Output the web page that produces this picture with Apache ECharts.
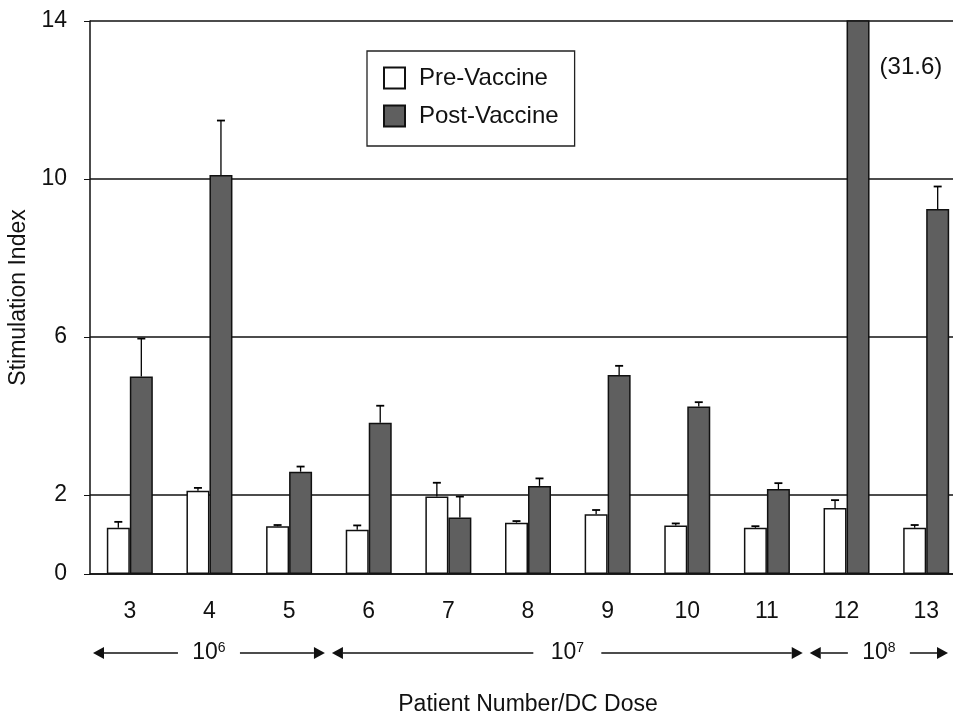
<!DOCTYPE html>
<html>
<head>
<meta charset="utf-8">
<script src="https://cdn.jsdelivr.net/npm/echarts@6/dist/echarts.min.js"></script>
<style>
html,body{margin:0;padding:0;background:#fff;}
#c{width:953px;height:717px;}
</style>
</head>
<body>
<div id="c"></div>
<script>
// ---- data ----
const patients = ['3','4','5','6','7','8','9','10','11','12','13'];
const preVals  = [1.17, 2.11, 1.21, 1.12, 1.96, 1.30, 1.51, 1.23, 1.17, 1.67, 1.17];
const preErr   = [0.15, 0.07, 0.03, 0.11, 0.35, 0.04, 0.11, 0.05, 0.04, 0.20, 0.07];
const postVals = [5.0, 10.1, 2.59, 3.83, 1.43, 2.23, 5.04, 4.24, 2.15, 31.6, 9.24];
const postErr  = [0.96, 1.38, 0.13, 0.43, 0.53, 0.19, 0.23, 0.11, 0.15, 0, 0.57];
const yTicks   = [0, 2, 6, 10, 14];
const doseExp   = ['6', '7', '8'];
const doseStart = ['3', '6', '12'];
const doseEnd   = ['5', '11', '13'];
const seriesNames = ['Pre-Vaccine', 'Post-Vaccine'];
const offScaleIndex = 9; // patient 12 post value exceeds axis

// ---- styles ----
const FONT = "'Liberation Sans', Arial, sans-serif";
const BAR_W = 23;
const POST_COLOR = '#5f5f5f';

const chart = echarts.init(document.getElementById('c'), null, {renderer: 'canvas'});

function errSeries(vals, errs, sign) {
  return {
    type: 'custom',
    silent: true,
    z: 4,
    clip: true,
    data: vals.map((v, i) => [i, v, v + errs[i], errs[i]]),
    encode: {x: 0, y: 1},
    renderItem(params, api) {
      if (!(api.value(3) > 0)) return null;
      const i = api.value(0);
      const b = api.coord([i, api.value(1)]);
      const t = api.coord([i, api.value(2)]);
      const x = b[0] + sign * BAR_W / 2;
      return {
        type: 'group',
        children: [
          {type: 'line', shape: {x1: x, y1: b[1], x2: x, y2: t[1]}, style: {stroke: '#000', lineWidth: 1.3}},
          {type: 'line', shape: {x1: x - 4, y1: t[1], x2: x + 4, y2: t[1]}, style: {stroke: '#000', lineWidth: 1.8}}
        ]
      };
    }
  };
}

const option = {
  animation: false,
  backgroundColor: '#fff',
  textStyle: {fontFamily: FONT},
  grid: {left: 90, top: 21, right: -13, bottom: 143, containLabel: false, outerBoundsMode: 'none'},
  legend: {
    data: seriesNames,
    orient: 'vertical',
    left: 367, top: 51,
    padding: [15, 16, 18, 16],
    itemGap: 14,
    itemWidth: 21, itemHeight: 21,
    icon: 'rect',
    borderColor: '#222', borderWidth: 1.3,
    backgroundColor: '#fff',
    textStyle: {fontSize: 24, color: '#111', fontFamily: FONT, padding: [0, 0, 0, 9]},
    selectedMode: false
  },
  xAxis: {
    type: 'category',
    data: patients,
    boundaryGap: true,
    axisLine: {lineStyle: {color: '#111', width: 1.5}},
    axisTick: {show: false},
    axisLabel: {fontSize: 23, color: '#111', margin: 26, fontFamily: FONT},
    name: 'Patient Number/DC Dose',
    nameLocation: 'middle',
    nameGap: 119,
    nameTextStyle: {fontSize: 23, color: '#111', fontFamily: FONT}
  },
  yAxis: {
    type: 'value',
    min: 0, max: 14,
    axisLine: {show: true, lineStyle: {color: '#111', width: 1.5}},
    axisTick: {show: true, length: 6, customValues: yTicks, lineStyle: {color: '#111'}},
    axisLabel: {fontSize: 23, color: '#111', margin: 23, customValues: yTicks, fontFamily: FONT},
    splitLine: {show: true, lineStyle: {color: '#111', width: 1.5}},
    name: 'Stimulation Index',
    nameLocation: 'middle',
    nameGap: 53,
    nameTextStyle: {fontSize: 23, color: '#111', fontFamily: FONT}
  },
  series: [
    {
      name: seriesNames[0], type: 'bar', data: preVals,
      barWidth: BAR_W, barGap: '0%',
      itemStyle: {color: '#fff', borderColor: '#111', borderWidth: 1.5},
      z: 3
    },
    {
      name: seriesNames[1], type: 'bar', data: postVals,
      barWidth: BAR_W, barGap: '0%',
      itemStyle: {color: POST_COLOR, borderColor: '#111', borderWidth: 1.5},
      z: 3
    },
    errSeries(preVals, preErr, -1),
    errSeries(postVals, postErr, 1)
  ]
};
chart.setOption(option);

function buildGraphics() {
  const W = chart.getWidth();
  const gr = [];
  const cat = chart.getModel().getComponent('xAxis', 0).axis;
  const bw = cat.getBandWidth();
  const cx = name => chart.convertToPixel({xAxisIndex: 0}, name);
  const rowY = chart.convertToPixel({yAxisIndex: 0}, 0) + 79;
  const head = 11, half = 6, gap = 14;

  function arrow(xFrom, xTo) { // arrowhead at xTo
    const dir = xTo > xFrom ? 1 : -1;
    gr.push({type: 'line', shape: {x1: xFrom, y1: rowY, x2: xTo - dir * head, y2: rowY},
      style: {stroke: '#111', lineWidth: 1.5}, silent: true});
    gr.push({type: 'polygon', shape: {points: [[xTo, rowY], [xTo - dir * head, rowY - half], [xTo - dir * head, rowY + half]]},
      style: {fill: '#111'}, silent: true});
  }

  doseExp.forEach((e, k) => {
    const l = cx(doseStart[k]) - bw / 2 + 3;
    let r = cx(doseEnd[k]) + bw / 2 - 4;
    if (r > W - 5) r = W - 5;
    const mid = (l + r) / 2;
    const txtW = k === 1 ? 40 : 34;
    gr.push({
      type: 'text', silent: true,
      x: mid, y: rowY,
      style: {
        text: '{b|10}{s|' + e + '}',
        align: 'center', verticalAlign: 'middle',
        fontFamily: FONT,
        rich: {
          b: {fontSize: 23, fill: '#111', fontFamily: FONT, lineHeight: 24},
          s: {fontSize: 14, fill: '#111', fontFamily: FONT, lineHeight: 24, verticalAlign: 'top'}
        }
      }
    });
    arrow(mid - txtW / 2 - gap, l);
    arrow(mid + txtW / 2 + gap, r);
  });

  // off-scale value annotation
  const bx = cx(patients[offScaleIndex]) + BAR_W;
  gr.push({
    type: 'text', silent: true,
    x: bx + 10, y: chart.convertToPixel({yAxisIndex: 0}, 14) + 46,
    style: {text: '(' + postVals[offScaleIndex] + ')', fontSize: 24, fill: '#111',
      fontFamily: FONT, align: 'left', verticalAlign: 'middle'}
  });
  chart.setOption({graphic: gr});
}
buildGraphics();
</script>
</body>
</html>
